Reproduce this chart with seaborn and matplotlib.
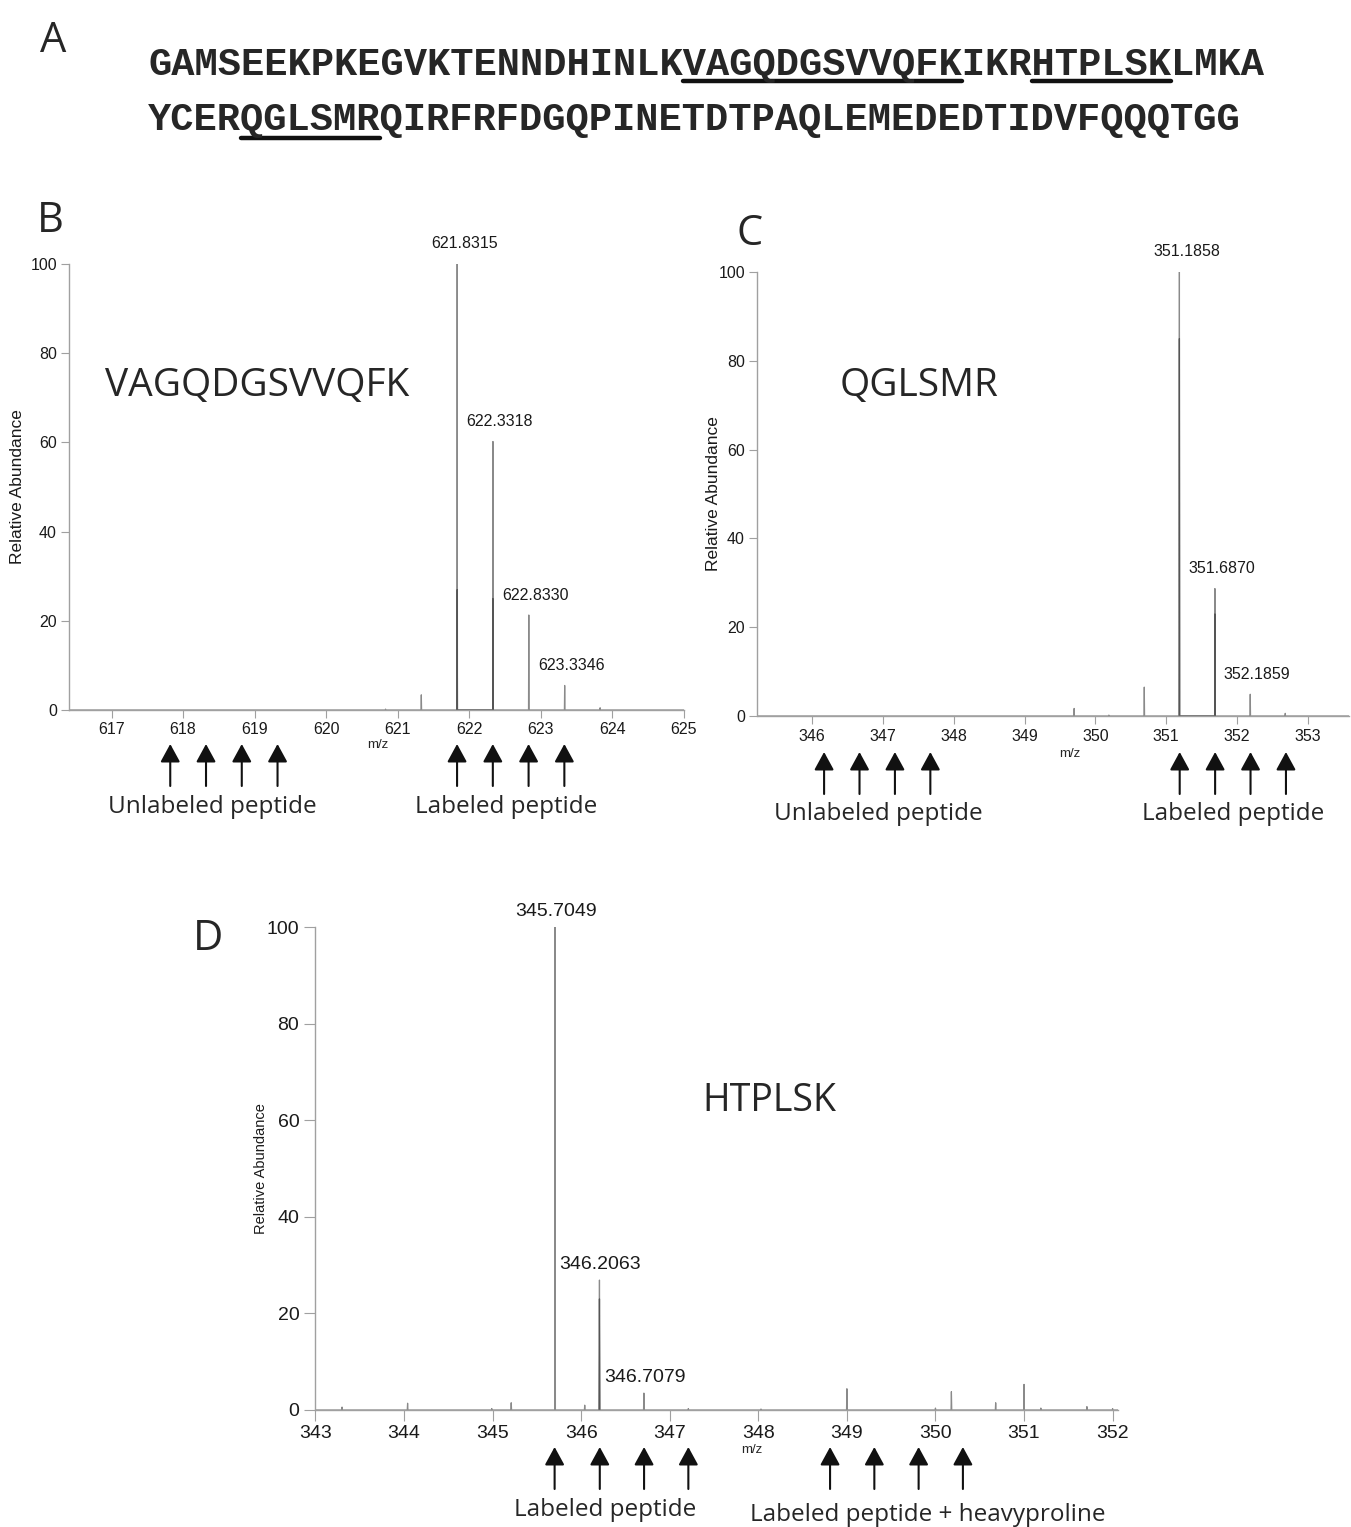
import numpy as np
import pandas as pd
import matplotlib
matplotlib.use("Agg")
import matplotlib.pyplot as plt
import seaborn as sns

# ---------------- data ----------------
seq_line1 = "GAMSEEKPKEGVKTENNDHINLKVAGQDGSVVQFKIKRHTPLSKLMKA"
seq_line2 = "YCERQGLSMRQIRFRFDGQPINETDTPAQLEMEDEDTIDVFQQQTGG"
underlined_1 = ["VAGQDGSVVQFK", "HTPLSK"]
underlined_2 = ["QGLSMR"]

b_peptide = "VAGQDGSVVQFK"
b_mz = [620.83, 621.33, 621.8315, 622.3318, 622.8330, 623.3346, 623.83]
b_int = [0.2, 3.4, 100.0, 60.2, 21.3, 5.5, 0.5]
b_inner = [0, 0, 27, 25, 0, 0, 0]
b_labeled_peaks = [621.8315, 622.3318, 622.8330, 623.3346]
b_arrows_left = [617.82, 618.32, 618.82, 619.32]
b_arrows_right = [621.83, 622.33, 622.83, 623.33]
b_xticks = [617, 618, 619, 620, 621, 622, 623, 624, 625]
b_xlim = (616.41, 625.0)

c_peptide = "QGLSMR"
c_mz = [349.70, 350.19, 350.69, 351.1858, 351.6870, 352.1859, 352.68]
c_int = [1.7, 0.2, 6.5, 100.0, 28.7, 4.9, 0.6]
c_inner = [0, 0, 0, 85, 23, 0, 0]
c_labeled_peaks = [351.1858, 351.6870, 352.1859]
c_arrows_left = [346.17, 346.67, 347.17, 347.67]
c_arrows_right = [351.19, 351.69, 352.19, 352.69]
c_xticks = [346, 347, 348, 349, 350, 351, 352, 353]
c_xlim = (345.23, 353.58)

d_peptide = "HTPLSK"
d_mz = [343.30, 344.04, 344.99, 345.21, 345.7049, 346.04, 346.2063, 346.7079,
        347.21, 348.03, 349.00, 350.00, 350.18, 350.68, 351.00, 351.19, 351.71, 352.00]
d_int = [0.6, 1.4, 0.3, 1.5, 100.0, 1.0, 26.9, 3.5,
         0.3, 0.2, 4.4, 0.4, 3.8, 1.5, 5.3, 0.4, 0.7, 0.3]
d_inner = [0, 0, 0, 0, 0, 0, 23, 0, 0, 0, 0, 0, 0, 0, 0, 0, 0, 0]
d_labeled_peaks = [345.7049, 346.2063, 346.7079]
d_arrows_left = [345.70, 346.21, 346.71, 347.21]
d_arrows_right = [348.81, 349.31, 349.81, 350.31]
d_xticks = [343, 344, 345, 346, 347, 348, 349, 350, 351, 352]
d_xlim = (342.99, 352.06)

yticks = [0, 20, 40, 60, 80, 100]

# ---------------- style ----------------
W, H = 1351, 1527
sns.set_theme(style="ticks")
plt.rcParams["font.family"] = ["Liberation Sans", "DejaVu Sans"]
BIG = ["Open Sans", "DejaVu Sans"]
MONO = ["Liberation Mono", "DejaVu Sans Mono"]
LINE = "#8a8a8a"
INNER = "#555555"
SPINE = "#a0a0a0"

fig = plt.figure(figsize=(W / 100, H / 100), dpi=100)
fig.patch.set_facecolor("white")


def fx(px):
    return px / W


def fy(py):
    return 1 - py / H


def profile(mz, inten, xlim, w=0.004):
    xs, ys = [xlim[0]], [0.0]
    for m, h in sorted(zip(mz, inten)):
        if h <= 0:
            continue
        xs += [m - w, m, m + w]
        ys += [0.0, h, 0.0]
    xs.append(xlim[1])
    ys.append(0.0)
    return pd.DataFrame({"m/z": xs, "Relative Abundance": ys})


def panel(box, mz, inten, inner, xlim, xticks, labeled, lab_off, tick_fs, ann_fs,
          ylab_fs, ylab_x, ticklen):
    x0, x1, ytop, ybot = box
    ax = fig.add_axes([fx(x0), fy(ybot), (x1 - x0) / W, (ybot - ytop) / H])
    ax.set_facecolor("white")
    sns.lineplot(data=profile(mz, inten, xlim), x="m/z", y="Relative Abundance",
                 ax=ax, estimator=None, sort=False, color=LINE, lw=0.9)
    inner_df = profile(mz, inner, xlim).iloc[1:-1]
    if len(inner_df):
        sns.lineplot(data=inner_df, x="m/z", y="Relative Abundance", ax=ax,
                     estimator=None, sort=False, color=INNER, lw=0.9)
    ax.set_xlim(*xlim)
    ax.set_ylim(0, 100)
    ax.set_xticks(xticks)
    ax.set_yticks(yticks)
    ax.set_xlabel("")
    ax.set_ylabel("")
    for s in ["top", "right"]:
        ax.spines[s].set_visible(False)
    for s in ["left", "bottom"]:
        ax.spines[s].set_color(SPINE)
        ax.spines[s].set_linewidth(1.0)
    ax.tick_params(axis="both", direction="out", length=ticklen, width=0.8,
                   color=SPINE, labelsize=tick_fs, labelcolor="#1a1a1a", pad=3)
    peak = dict(zip(mz, inten))
    for m in labeled:
        ax.annotate(f"{m:.4f}", xy=(m, peak[m]), xytext=lab_off,
                    textcoords="offset pixels", ha="center", va="center",
                    fontsize=ann_fs, color="#1a1a1a", annotation_clip=False)
    fig.text(fx(ylab_x), fy((ytop + ybot) / 2), "Relative Abundance",
             rotation=90, ha="center", va="center", fontsize=ylab_fs, color="#1a1a1a")
    return ax


def arrows(ax, xs, y_head, y_tail):
    for x in xs:
        ax.annotate("", xy=(x, fy(y_head)), xytext=(x, fy(y_tail)),
                    xycoords=("data", "figure fraction"),
                    textcoords=("data", "figure fraction"),
                    arrowprops=dict(arrowstyle="-|>,head_length=0.55,head_width=0.3",
                                    mutation_scale=20, lw=1.5, color="#111111",
                                    shrinkA=0, shrinkB=0),
                    annotation_clip=False)


# ---------------- panel letters ----------------
fig.text(fx(53), fy(52), "A", fontsize=30, family=BIG, ha="center", va="baseline")
fig.text(fx(50), fy(232), "B", fontsize=30, family=BIG, ha="center", va="baseline")
fig.text(fx(750), fy(245), "C", fontsize=30, family=BIG, ha="center", va="baseline")
fig.text(fx(208), fy(950), "D", fontsize=30, family=BIG, ha="center", va="baseline")

# ---------------- panel A: sequence ----------------
t1 = fig.text(fx(148), fy(75), seq_line1, fontsize=27.9, family=MONO,
              fontweight="bold", ha="left", va="baseline")
t2 = fig.text(fx(148), fy(130), seq_line2, fontsize=27.9, family=MONO,
              fontweight="bold", ha="left", va="baseline")
fig.canvas.draw()
renderer = fig.canvas.get_renderer()
for t, s, words, uy in [(t1, seq_line1, underlined_1, 81), (t2, seq_line2, underlined_2, 138)]:
    bb = t.get_window_extent(renderer)
    adv = bb.width / len(s)
    for wd in words:
        i = s.index(wd)
        xa = bb.x0 + i * adv
        xb = bb.x0 + (i + len(wd)) * adv
        fig.add_artist(plt.Line2D([xa / W, xb / W], [fy(uy), fy(uy)],
                                  transform=fig.transFigure, color="#111111", lw=3.2))

# ---------------- panel B ----------------
axB = panel((69.4, 683.8, 264, 710), b_mz, b_int, b_inner, b_xlim, b_xticks,
            b_labeled_peaks, (7, 20), 11.5, 11.5, 12.5, 18, 6)
fig.text(fx(378), fy(745), "m/z", fontsize=9.5, ha="center", va="center")
fig.text(fx(105), fy(396), b_peptide, fontsize=28, family=BIG, ha="left", va="baseline")
arrows(axB, b_arrows_left, 744, 786)
arrows(axB, b_arrows_right, 744, 786)
fig.text(fx(212), fy(813), "Unlabeled peptide", fontsize=17.5, family=BIG,
         ha="center", va="baseline")
fig.text(fx(506), fy(813), "Labeled peptide", fontsize=17.5, family=BIG,
         ha="center", va="baseline")

# ---------------- panel C ----------------
axC = panel((757.5, 1349, 272, 716), c_mz, c_int, c_inner, c_xlim, c_xticks,
            c_labeled_peaks, (7, 20), 11.5, 11.5, 12.5, 713, 6)
fig.text(fx(1070), fy(754), "m/z", fontsize=9.5, ha="center", va="center")
fig.text(fx(840), fy(396), c_peptide, fontsize=28, family=BIG, ha="left", va="baseline")
arrows(axC, c_arrows_left, 752, 794)
arrows(axC, c_arrows_right, 752, 794)
fig.text(fx(878), fy(820), "Unlabeled peptide", fontsize=17.5, family=BIG,
         ha="center", va="baseline")
fig.text(fx(1233), fy(820), "Labeled peptide", fontsize=17.5, family=BIG,
         ha="center", va="baseline")

# ---------------- panel D ----------------
axD = panel((314.6, 1117.9, 927, 1410), d_mz, d_int, d_inner, d_xlim, d_xticks,
            d_labeled_peaks, (1, 16), 14, 14, 10.5, 261, 8)
fig.text(fx(752), fy(1450), "m/z", fontsize=9.5, ha="center", va="center")
fig.text(fx(702), fy(1111), d_peptide, fontsize=27, family=BIG, ha="left", va="baseline")
arrows(axD, d_arrows_left, 1447, 1489)
arrows(axD, d_arrows_right, 1447, 1489)
fig.text(fx(605), fy(1516), "Labeled peptide", fontsize=17.5, family=BIG,
         ha="center", va="baseline")
fig.text(fx(928), fy(1521), "Labeled peptide + heavyproline", fontsize=17.5, family=BIG,
         ha="center", va="baseline")

fig.savefig("out.png", dpi=100, facecolor="white")
